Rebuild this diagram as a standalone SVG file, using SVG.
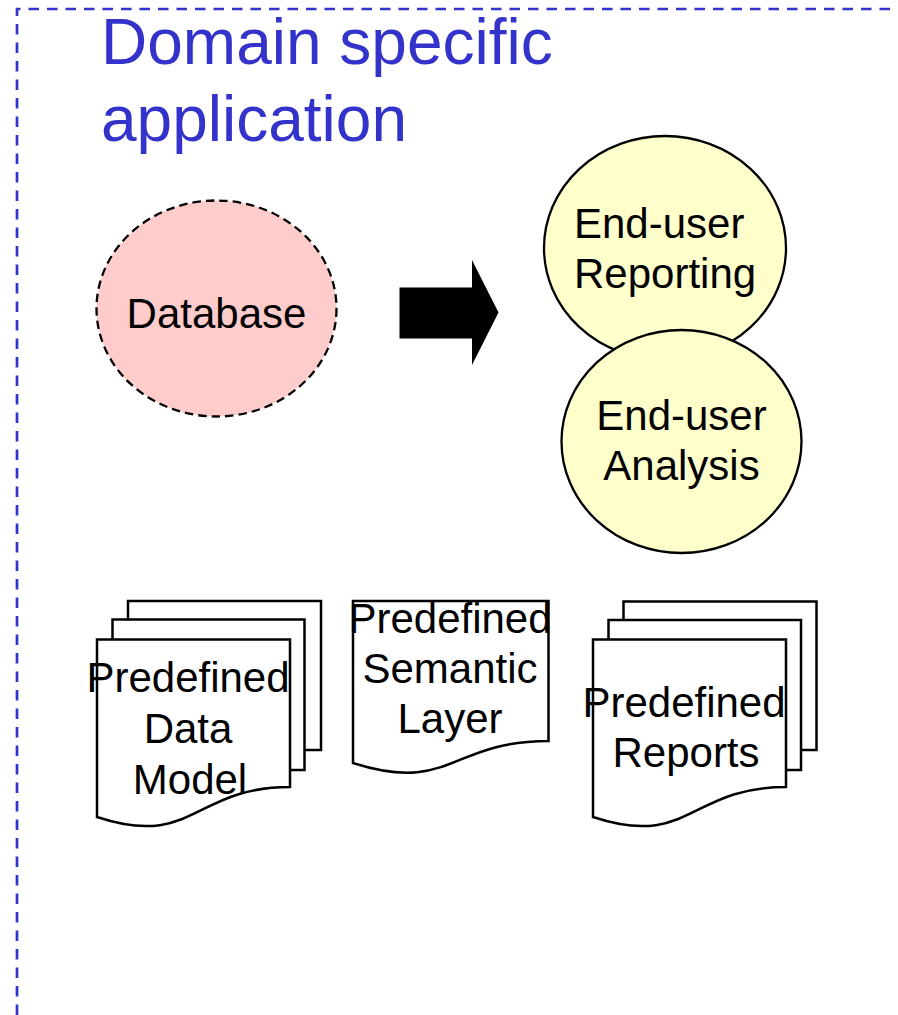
<svg xmlns="http://www.w3.org/2000/svg" width="898" height="1015" viewBox="0 0 898 1015">
<style>
.lbl{font-family:"Liberation Sans",Arial,sans-serif;font-size:42px;fill:#000}
.title{font-family:"Liberation Sans",Arial,sans-serif;font-size:64px;fill:#3333cc}
.page{fill:#fff;stroke:#000;stroke-width:2.5;stroke-linejoin:miter}
.bubble{fill:#ffffcc;stroke:#000;stroke-width:2.3}
</style>
<rect width="898" height="1015" fill="#fff"/>
<g id="frame">
<path d="M17,1015 L17,9 L898,9" fill="none" stroke="#3333cc" stroke-width="2.7" stroke-dasharray="10.5 8"/>
<text class="title" x="101" y="64">Domain specific</text>
<text class="title" x="101" y="141">application</text>
</g>
<g id="database">
<ellipse cx="216.5" cy="308.5" rx="120" ry="108" fill="#ffcccc" stroke="#000" stroke-width="2.3" stroke-dasharray="8.5 5"/>
<text class="lbl" x="216.5" y="328" text-anchor="middle">Database</text>
</g>
<g id="connectors">
<polygon points="399.5,287.5 472,287.5 472,260 498.5,312.5 472,365 472,338.5 399.5,338.5" fill="#000"/>
</g>
<g id="reporting">
<ellipse class="bubble" cx="665" cy="248" rx="121" ry="112"/>
<text class="lbl" x="574" y="238">End-user</text>
<text class="lbl" x="574" y="288">Reporting</text>
</g>
<g id="analysis">
<ellipse class="bubble" cx="681.5" cy="441.5" rx="120" ry="111.5"/>
<text class="lbl" x="681.5" y="430" text-anchor="middle">End-user</text>
<text class="lbl" x="681.5" y="480" text-anchor="middle">Analysis</text>
</g>
<g id="data-model">
<rect class="page" x="128" y="601" width="193" height="149"/>
<rect class="page" x="112.5" y="619.5" width="192" height="150.5"/>
<path class="page" d="M97,639.5 L290,639.5 L290,787 C193.5,787 193.5,849 97,817 Z"/>
<text class="lbl" x="188" y="692" text-anchor="middle">Predefined</text>
<text class="lbl" x="188" y="743" text-anchor="middle">Data</text>
<text class="lbl" x="190" y="794" text-anchor="middle">Model</text>
</g>
<g id="semantic-layer">
<path class="page" d="M353,601 L548.5,601 L548.5,741 C450.5,741 450.5,794 353,763 Z"/>
<text class="lbl" x="450" y="633" text-anchor="middle">Predefined</text>
<text class="lbl" x="450" y="683" text-anchor="middle">Semantic</text>
<text class="lbl" x="450" y="733" text-anchor="middle">Layer</text>
</g>
<g id="reports">
<rect class="page" x="623.5" y="601.5" width="193" height="148.5"/>
<rect class="page" x="608.5" y="620" width="192.5" height="150"/>
<path class="page" d="M593,639.5 L786,639.5 L786,787 C689.5,787 689.5,849 593,817 Z"/>
<text class="lbl" x="684" y="717" text-anchor="middle">Predefined</text>
<text class="lbl" x="686" y="767" text-anchor="middle">Reports</text>
</g>
</svg>
